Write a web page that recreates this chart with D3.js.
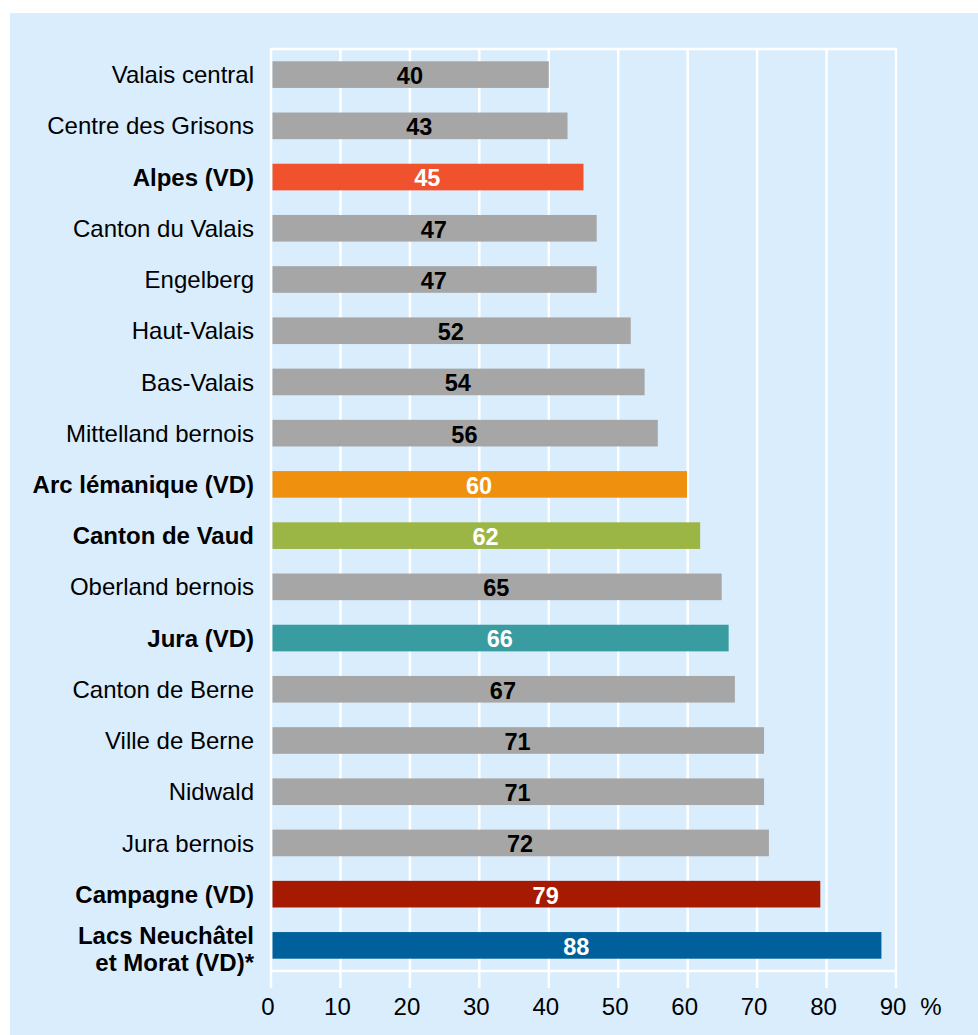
<!DOCTYPE html>
<html>
<head>
<meta charset="utf-8">
<script src="https://cdn.jsdelivr.net/npm/d3@7"></script>
<style>
  body { margin: 0; background: #fff; }
  svg { display: block; font-family: Arial, "Liberation Sans", sans-serif; }
</style>
</head>
<body>
<svg id="chart" width="978" height="1035"></svg>
<script>
// categories top to bottom, values in %
const regions = [
  'Valais central', 'Centre des Grisons', 'Alpes (VD)', 'Canton du Valais',
  'Engelberg', 'Haut-Valais', 'Bas-Valais', 'Mittelland bernois',
  'Arc lémanique (VD)', 'Canton de Vaud', 'Oberland bernois', 'Jura (VD)',
  'Canton de Berne', 'Ville de Berne', 'Nidwald', 'Jura bernois',
  'Campagne (VD)', 'Lacs Neuchâtel\net Morat (VD)*'
];
const shares = [40, 42.7, 45, 46.9, 46.9, 51.8, 53.8, 55.7, 59.9, 61.8, 64.9, 65.9, 66.8, 71, 71, 71.7, 79.1, 87.9];
const highlight = {
  'Alpes (VD)': '#f0522d',
  'Arc lémanique (VD)': '#ef900e',
  'Canton de Vaud': '#9bb644',
  'Jura (VD)': '#389ca0',
  'Campagne (VD)': '#a51a00',
  'Lacs Neuchâtel\net Morat (VD)*': '#00609c'
};
const ticks = [0, 10, 20, 30, 40, 50, 60, 70, 80, 90];

const svg = d3.select('#chart');
const margin = { top: 49, left: 271, right: 81, bottom: 64 };

// blue panel
svg.append('rect')
   .attr('x', 10).attr('y', 13)
   .attr('width', 968).attr('height', 1022)
   .attr('fill', '#daedfd');

const graph = svg.append('g')
   .attr('transform', `translate(${margin.left}, ${margin.top})`);

const x = d3.scaleLinear().domain([0, 90]).range([0, 625]);
const y = d3.scaleBand().domain(regions).range([0, 922]).paddingInner(0.48).paddingOuter(0.24);

// grid + frame
graph.selectAll('.grid')
   .data(ticks)
  .enter().append('line')
   .attr('x1', d => x(d)).attr('x2', d => x(d))
   .attr('y1', 0).attr('y2', 939)
   .attr('stroke', '#fff').attr('stroke-width', 2.5);

graph.append('line')
   .attr('x1', x(0) - 1).attr('x2', x(90) + 1)
   .attr('y1', 0).attr('y2', 0)
   .attr('stroke', '#fff').attr('stroke-width', 2.5);

graph.append('line')
   .attr('x1', x(0) - 1).attr('x2', x(90) + 1)
   .attr('y1', 922).attr('y2', 922)
   .attr('stroke', '#fff').attr('stroke-width', 2.5);

// bars
graph.selectAll('.bar')
   .data(regions)
  .enter().append('rect')
   .attr('x', x(0) + 1.5)
   .attr('y', d => y(d))
   .attr('width', (d, i) => x(shares[i]) - x(0) - 1.5)
   .attr('height', y.bandwidth())
   .attr('fill', d => highlight[d] || '#a6a6a6');

// value labels
graph.selectAll('.val')
   .data(regions)
  .enter().append('text')
   .attr('x', (d, i) => (x(0) + x(shares[i])) / 2)
   .attr('y', d => y(d) + y.bandwidth() / 2)
   .attr('dy', '0.4em')
   .attr('text-anchor', 'middle')
   .attr('font-size', 23.5)
   .attr('font-weight', 'bold')
   .attr('fill', d => highlight[d] ? '#fff' : '#000')
   .text((d, i) => Math.round(shares[i]));

// category labels
const cat = graph.selectAll('.cat')
   .data(regions)
  .enter().append('text')
   .attr('x', -17)
   .attr('y', d => y(d) + y.bandwidth() / 2)
   .attr('text-anchor', 'end')
   .attr('font-size', 24)
   .attr('font-weight', d => highlight[d] ? 'bold' : 'normal')
   .attr('fill', '#000');

cat.each(function(d) {
  const lines = d.split('\n');
  const t = d3.select(this);
  lines.forEach((l, k) => {
    t.append('tspan')
       .attr('x', -17)
       .attr('dy', k === 0 ? (lines.length > 1 ? '-0.06em' : '0.36em') : '1.12em')
       .text(l);
  });
});

// x axis labels
graph.selectAll('.tick-label')
   .data(ticks)
  .enter().append('text')
   .attr('x', d => x(d) - 3)
   .attr('y', 957)
   .attr('dy', '0.36em')
   .attr('text-anchor', 'middle')
   .attr('font-size', 24)
   .attr('fill', '#000')
   .text(d => d);

graph.append('text')
   .attr('x', x(90) + 35)
   .attr('y', 957)
   .attr('dy', '0.36em')
   .attr('text-anchor', 'middle')
   .attr('font-size', 24)
   .attr('fill', '#000')
   .text('%');
</script>
</body>
</html>
